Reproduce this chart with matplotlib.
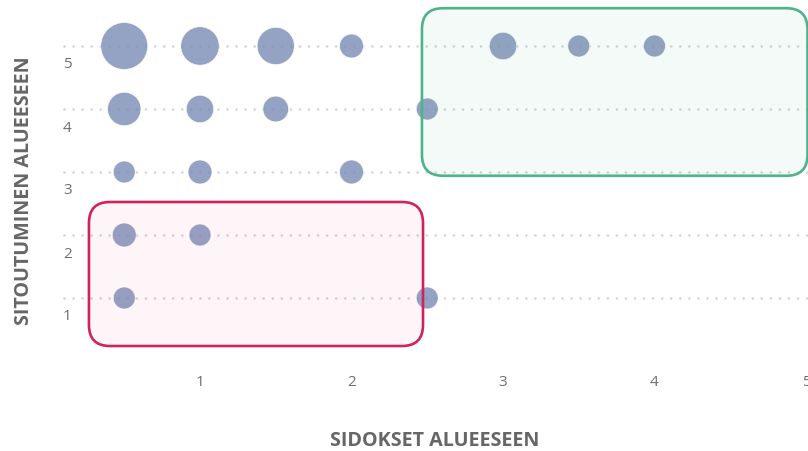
import matplotlib
matplotlib.use("Agg")
import matplotlib.pyplot as plt
import numpy as np
from matplotlib.patches import FancyBboxPatch
from matplotlib.transforms import blended_transform_factory, offset_copy

plt.rcParams['font.family'] = ['Open Sans', 'DejaVu Sans']

# Bubble data: ties to the area (x), commitment to the area (y), respondent count (z)
ties = [0.5, 1.0, 1.5, 2.0, 3.0, 3.5, 4.0,
        0.5, 1.0, 1.5, 2.5,
        0.5, 1.0, 2.0,
        0.5, 1.0,
        0.5, 2.5]
commitment = [5, 5, 5, 5, 5, 5, 5,
              4, 4, 4, 4,
              3, 3, 3,
              2, 2,
              1, 1]
counts = [20, 12, 11, 2, 4, 1, 1,
          8, 4, 3, 1,
          1, 2, 2,
          2, 1,
          1, 1]

x_ticks = [1, 2, 3, 4, 5]
y_ticks = [1, 2, 3, 4, 5]

# Highlighted regions: (x0, x1, y0, y1)
low_region = (0.267, 2.472, 0.238, 2.524)
high_region = (2.465, 5.01, 2.94, 5.60)

W, H, DPI = 808, 451, 100
fig = plt.figure(figsize=(W / DPI, H / DPI), dpi=DPI)

x_min, x_max = 0.1, 5.0
y_min, y_max = 0.0, 5.73
left_px = 48.5 + x_min * 151.5
right_px = 48.5 + x_max * 151.5
top_px = 361 - y_max * 63
bottom_px = 361 - y_min * 63
ax = fig.add_axes([left_px / W, 1 - bottom_px / H,
                   (right_px - left_px) / W, (bottom_px - top_px) / H])
ax.set_xlim(x_min, x_max)
ax.set_ylim(y_min, y_max)
ax.patch.set_alpha(0)
for s in ax.spines.values():
    s.set_visible(False)

# dotted horizontal grid
for yv in y_ticks:
    ax.plot([x_min, x_max + 0.1], [yv, yv], color='#d6d6d6', lw=2.0,
            linestyle=(0, (0.01, 3.25)), dash_capstyle='round', zorder=1,
            clip_on=False)

# bubble sizes scaled by area between min and max diameter (pixels)
z = np.array(counts, dtype=float)
d_min, d_max = 22.0, 47.0
pos = (z - z.min()) / (z.max() - z.min())
diam_px = np.sqrt(d_min ** 2 + pos * (d_max ** 2 - d_min ** 2))
sizes = (diam_px * 72 / DPI) ** 2
ax.scatter(ties, commitment, s=sizes, color='#7a8cb4', alpha=0.8,
           edgecolors='white', linewidths=0.6, zorder=3, clip_on=False)

# rounded highlight boxes
x_per_px = 1 / 151.5
y_per_px = 1 / 63
aspect = y_per_px / x_per_px
for (x0, x1, y0, y1), edge, a in [(low_region, '#d2215f', 0.045),
                                  (high_region, '#4db38a', 0.06)]:
    fc = matplotlib.colors.to_rgba(edge, a)
    box = FancyBboxPatch((x0, y0), x1 - x0, y1 - y0,
                         boxstyle="round,pad=0,rounding_size=%f" % (21 * x_per_px),
                         mutation_aspect=aspect, facecolor=fc, edgecolor=edge,
                         linewidth=1.9, zorder=4, clip_on=False)
    ax.add_patch(box)

# ticks
ax.set_xticks(x_ticks)
ax.set_xticklabels([str(t) for t in x_ticks])
ax.tick_params(axis='x', length=0, pad=10, labelsize=11, labelcolor='#6e6e6e')
ax.set_yticks([])

# y labels sit just below each grid line
trans = blended_transform_factory(ax.transAxes, ax.transData)
trans = offset_copy(trans, fig=fig, x=0, y=-19, units='dots')
for yv in y_ticks:
    ax.text(0.005, yv, str(yv), transform=trans, ha='center', va='center',
            fontsize=11, color='#6e6e6e')

ax.set_xlabel('SIDOKSET ALUEESEEN', fontsize=14.2, fontweight='bold',
              color='#666666', va='center')
ax.xaxis.set_label_coords(0.5, -(441 - bottom_px) / (bottom_px - top_px))
fig.text(24 / W, 1 - 191 / H, 'SITOUTUMINEN ALUEESEEN', rotation=90,
         ha='center', va='center', fontsize=14.2, fontweight='bold',
         color='#666666')

fig.savefig('out.png', dpi=DPI)
